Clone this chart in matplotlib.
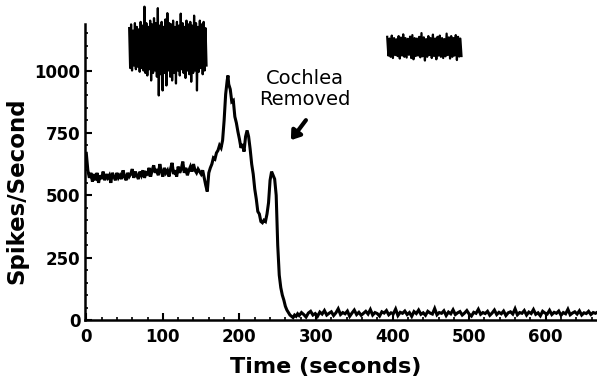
import matplotlib
matplotlib.use('Agg')
import matplotlib.pyplot as plt
import numpy as np
from matplotlib.ticker import MultipleLocator, FixedLocator

# main trace (spikes/second)
early_t = np.arange(0, 160, 2)
early_v = [668, 600, 570, 590, 555, 585, 560, 590, 550, 580,
           565, 595, 560, 585, 570, 580, 550, 590, 575, 560,
           590, 570, 580, 565, 600, 575, 560, 590, 575, 585,
           605, 570, 595, 580, 565, 595, 580, 600, 570, 590,
           585, 610, 575, 600, 620, 590, 605, 580, 625, 595,
           575, 610, 590, 600, 575, 605, 630, 585, 600, 575,
           615, 590, 605, 635, 590, 610, 580, 600, 615, 595,
           625, 600, 590, 605, 595, 585, 600, 570, 540, 515]

peak_t = [160, 162, 164, 166, 168, 170, 172, 174, 176, 178,
          180, 182, 184, 185, 186, 188, 190, 192, 194, 196,
          198, 200, 202, 204, 206, 208, 210, 212, 214, 216,
          218, 220, 222, 224, 226, 228, 230, 232, 234, 236,
          238, 240, 242, 244, 246, 248, 250, 252, 254, 256,
          258, 260, 262, 264, 266, 268, 270, 272, 274, 276]
peak_v = [590, 610, 625, 650, 645, 670, 680, 700, 690, 720,
          800, 905, 960, 980, 945, 925, 875, 880, 815, 790,
          755, 725, 690, 705, 675, 735, 760, 735, 685, 625,
          585, 525, 485, 435, 425, 395, 390, 400, 395, 425,
          470, 560, 595, 580, 565, 500, 300, 180, 130, 100,
          80, 55, 40, 30, 20, 15, 10, 20, 15, 25]

late_t = np.arange(278, 671, 3)
late_v = [18, 30, 22, 12, 28, 35, 20, 26, 15, 32,
          24, 38, 20, 27, 33, 18, 29, 45, 22, 30,
          25, 36, 15, 28, 40, 22, 31, 19, 27, 35,
          24, 42, 20, 30, 26, 16, 33, 28, 38, 21,
          29, 25, 44, 18, 31, 27, 36, 22, 30, 15,
          34, 26, 40, 23, 29, 19, 35, 28, 24, 46,
          21, 30, 27, 37, 18, 32, 25, 41, 22, 29,
          34, 20, 28, 38, 24, 16, 31, 27, 43, 23,
          30, 26, 35, 19, 28, 40, 22, 31, 25, 36,
          18, 29, 33, 24, 45, 21, 30, 27, 38, 20,
          32, 26, 42, 23, 29, 17, 35, 28, 24, 39,
          22, 31, 27, 36, 19, 30, 25, 43, 21, 28,
          33, 24, 37, 20, 29, 26, 35, 22, 30, 27, 32]

# raw spike bursts drawn above the trace (upper / lower excursions)
burst1_start, burst1_end = 56, 157
burst1_hi = [1170, 1185, 1160, 1190, 1175, 1165, 1195, 1180, 1256, 1190,
             1175, 1200, 1185, 1210, 1190, 1250, 1180, 1195, 1175, 1205,
             1230, 1190, 1185, 1200, 1175, 1195, 1180, 1228, 1190, 1175,
             1200, 1185, 1195, 1180, 1220, 1190, 1175, 1200, 1185, 1195, 1170]
burst1_lo = [1010, 1000, 1020, 1005, 1015, 995, 1010, 1000, 990, 980,
             1005, 960, 990, 1000, 975, 900, 985, 920, 990, 940,
             1000, 975, 960, 990, 948, 1000, 980, 1005, 990, 970,
             1000, 985, 955, 990, 1000, 920, 995, 1010, 985, 1000, 1020]

burst2_start, burst2_end = 393, 490
burst2_hi = [1135, 1128, 1140, 1130, 1125, 1138, 1132, 1145, 1130, 1127,
             1136, 1142, 1130, 1128, 1135, 1150, 1133, 1126, 1138, 1130,
             1144, 1128, 1135, 1140, 1130, 1126, 1148, 1133, 1138, 1130,
             1142, 1135, 1128]
burst2_lo = [1060, 1055, 1050, 1062, 1058, 1048, 1060, 1055, 1052, 1063,
             1050, 1045, 1058, 1060, 1053, 1057, 1040, 1055, 1062, 1050,
             1058, 1045, 1060, 1055, 1050, 1057, 1062, 1048, 1055, 1060,
             1042, 1056, 1058]


def zigzag(start, end, hi, lo):
    vals = np.empty(len(hi) + len(lo))
    vals[0::2] = hi
    vals[1::2] = lo
    return np.linspace(start, end, len(vals)), vals


fig = plt.figure(figsize=(5.97, 3.81), dpi=100)
ax = fig.add_axes([0.142, 0.16, 0.858, 0.835])

t = np.concatenate([early_t, peak_t, late_t])
v = np.concatenate([early_v, peak_v, late_v])
ax.plot(t, v, color='black', lw=2.2, solid_joinstyle='miter')

for b in [(burst1_start, burst1_end, burst1_hi, burst1_lo),
          (burst2_start, burst2_end, burst2_hi, burst2_lo)]:
    bx, by = zigzag(*b)
    ax.plot(bx, by, color='black', lw=1.6)

ax.set_xlim(-2, 667)
ax.set_ylim(0, 1275)
ax.spines['top'].set_visible(False)
ax.spines['right'].set_visible(False)
ax.spines['left'].set_bounds(0, 1188)
ax.spines['left'].set_linewidth(1.8)
ax.spines['bottom'].set_linewidth(1.8)

ax.set_xticks([0, 100, 200, 300, 400, 500, 600])
ax.set_yticks([0, 250, 500, 750, 1000])
ax.xaxis.set_minor_locator(MultipleLocator(20))
ax.yaxis.set_minor_locator(FixedLocator(np.arange(50, 1160, 50)))
ax.tick_params(which='major', direction='in', length=5, width=1.5,
               labelsize=12)
ax.tick_params(axis='x', which='major', pad=6)
ax.tick_params(axis='y', which='major', pad=3)
ax.tick_params(which='minor', direction='in', length=2.5, width=1.2)
for lab in ax.get_xticklabels() + ax.get_yticklabels():
    lab.set_fontweight('bold')

ax.set_xlabel('Time (seconds)', fontsize=16, fontweight='bold')
ax.set_ylabel('Spikes/Second', fontsize=16.5, fontweight='bold')
ax.xaxis.set_label_coords(0.47, -0.115)
ax.yaxis.set_label_coords(-0.111, 0.405)

ax.text(285, 925, 'Cochlea\nRemoved', ha='center', va='center',
        fontsize=14, fontweight='medium', linespacing=1.15)
ax.annotate('', xy=(265, 712), xytext=(289, 810),
            arrowprops=dict(arrowstyle='-|>,head_width=0.35,head_length=0.5',
                            color='black', lw=3))

fig.savefig('out.png', dpi=100)
